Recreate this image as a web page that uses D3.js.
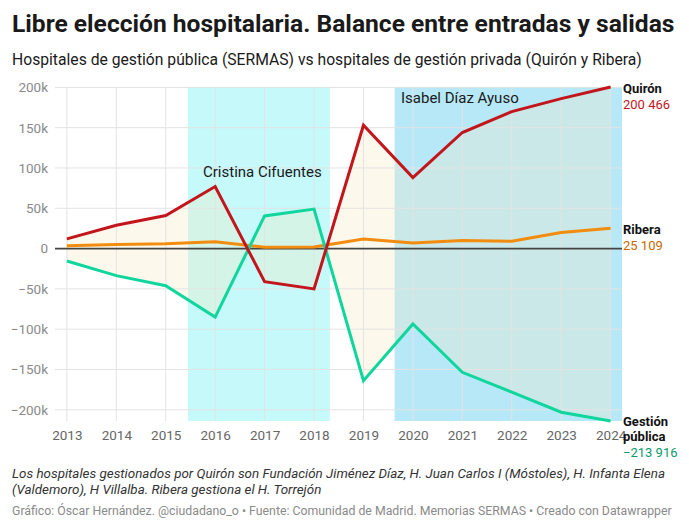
<!DOCTYPE html>
<html>
<head>
<meta charset="utf-8">
<script src="https://cdn.jsdelivr.net/npm/d3@7"></script>
<style>
  body { margin: 0; background: #fff; font-family: Roboto, "Noto Sans", sans-serif; }
  svg text { font-family: Roboto, "Noto Sans", sans-serif; }
</style>
</head>
<body>
<div id="chart"></div>
<script>
// data
var years = [2013, 2014, 2015, 2016, 2017, 2018, 2019, 2020, 2021, 2022, 2023, 2024];
var quiron = [12000, 29000, 41000, 77000, -41000, -50000, 153000, 88000, 144000, 170000, 186000, 200466];
var ribera = [3600, 5000, 6000, 8600, 1600, 2000, 12000, 7000, 10000, 9000, 20000, 25109];
var publica = [-15400, -33600, -46000, -85000, 40500, 49000, -164000, -93500, -153500, -178000, -203000, -213916];
var yTicks = [200000, 150000, 100000, 50000, 0, -50000, -100000, -150000, -200000];
var periods = [
  {name: "Cristina Cifuentes", from: 2015.45, to: 2018.32, color: "#c6f9fa"},
  {name: "Isabel Díaz Ayuso", from: 2019.63, to: 2024.23, color: "#b6e8f8"}
];

var W = 689, H = 528;
var margin = {top: 87, right: 67, bottom: 107, left: 55};

var svg = d3.select("#chart").append("svg")
  .attr("width", W).attr("height", H);

svg.append("text").attr("x", 12).attr("y", 32)
  .attr("font-size", 24.6).attr("font-weight", 700).attr("fill", "#1a1a1a")
  .text("Libre elección hospitalaria. Balance entre entradas y salidas");
svg.append("text").attr("x", 12).attr("y", 65)
  .attr("font-size", 15.7).attr("fill", "#1a1a1a")
  .text("Hospitales de gestión pública (SERMAS) vs hospitales de gestión privada (Quirón y Ribera)");

var x = d3.scaleLinear().domain([2012.76, 2024.23]).range([margin.left, W - margin.right]);
var y = d3.scaleLinear().domain([-213916, 200466]).range([H - margin.bottom, margin.top]);

var g = svg.append("g");

// government periods
g.selectAll("rect.period").data(periods).enter().append("rect")
  .attr("class", "period")
  .attr("x", function(d) { return x(d.from); })
  .attr("width", function(d) { return x(d.to) - x(d.from); })
  .attr("y", y.range()[1])
  .attr("height", y.range()[0] - y.range()[1])
  .attr("fill", function(d) { return d.color; });

// area between Quirón and gestión pública
var band = years.map(function(yr, i) { return {year: yr, a: quiron[i], b: publica[i]}; });
g.append("path").datum(band)
  .attr("fill", "#f7e9c0").attr("fill-opacity", 0.3)
  .attr("d", d3.area()
    .x(function(d) { return x(d.year); })
    .y0(function(d) { return y(d.b); })
    .y1(function(d) { return y(d.a); }));

// grid
g.selectAll("line.hgrid").data(yTicks).enter().append("line")
  .attr("x1", margin.left).attr("x2", W - margin.right)
  .attr("y1", function(d) { return y(d); }).attr("y2", function(d) { return y(d); })
  .attr("stroke", "#e3e3e3").attr("stroke-width", 1);
g.selectAll("line.vgrid").data(years).enter().append("line")
  .attr("x1", function(d) { return x(d); }).attr("x2", function(d) { return x(d); })
  .attr("y1", y.range()[1]).attr("y2", y.range()[0])
  .attr("stroke", "#e3e3e3").attr("stroke-width", 1);

// y axis labels
var yAxis = d3.axisLeft(y).tickValues(yTicks).tickSize(0).tickPadding(7)
  .tickFormat(function(d) { return d === 0 ? "0" : (d < 0 ? "\u2212" : "") + Math.abs(d / 1000) + "k"; });
g.append("g").attr("transform", "translate(" + margin.left + ",0)").call(yAxis)
  .call(function(s) { s.select(".domain").remove(); })
  .selectAll("text").attr("font-size", 13.5).attr("fill", "#8a8a8a");

// x axis labels
var xAxis = d3.axisBottom(x).tickValues(years).tickSize(0).tickPadding(9).tickFormat(d3.format("d"));
g.append("g").attr("transform", "translate(0," + (H - margin.bottom) + ")").call(xAxis)
  .call(function(s) { s.select(".domain").remove(); })
  .selectAll("text").attr("font-size", 13.5).attr("fill", "#666");

// zero line
g.append("line").attr("x1", margin.left).attr("x2", W - margin.right)
  .attr("y1", y(0)).attr("y2", y(0)).attr("stroke", "#444").attr("stroke-width", 1.6);

// lines
var series = [
  {name: "Ribera", values: ribera, color: "#f28c0f"},
  {name: "Gestión pública", values: publica, color: "#0fd69c"},
  {name: "Quirón", values: quiron, color: "#c3161c"}
];
var line = d3.line().x(function(d, i) { return x(years[i]); }).y(function(d) { return y(d); });
g.selectAll("path.series").data(series).enter().append("path")
  .attr("class", "series")
  .attr("fill", "none")
  .attr("stroke", function(d) { return d.color; })
  .attr("stroke-width", 3)
  .attr("stroke-linejoin", "miter")
  .attr("d", function(d) { return line(d.values); });

// period annotations
g.append("text").attr("x", 203).attr("y", 177).attr("font-size", 15).attr("fill", "#1a1a1a")
  .text(periods[0].name);
g.append("text").attr("x", 401).attr("y", 103).attr("font-size", 15).attr("fill", "#1a1a1a")
  .text(periods[1].name);

// end labels
var fmt = function(v) { return (v < 0 ? "\u2212" : "") + d3.format(",")(Math.abs(v)).replace(/,/g, " "); };
var lx = W - margin.right + 1;
function endLabel(lines, value, color, top) {
  var t = g.append("text").attr("x", lx).attr("font-size", 13);
  lines.forEach(function(l, i) {
    t.append("tspan").attr("x", lx).attr("y", top + i * 15).attr("font-weight", 700).attr("fill", "#111").text(l);
  });
  t.append("tspan").attr("x", lx).attr("y", top + lines.length * 15 + 1).attr("fill", color).text(fmt(value));
}
endLabel(["Quirón"], quiron[quiron.length - 1], "#c3161c", 93);
endLabel(["Ribera"], ribera[ribera.length - 1], "#c26a00", 234);
endLabel(["Gestión", "pública"], publica[publica.length - 1], "#0b9a6c", 426);

// notes
var note = svg.append("text").attr("font-size", 13.4).attr("font-style", "italic").attr("fill", "#333");
note.append("tspan").attr("x", 12).attr("y", 478)
  .text("Los hospitales gestionados por Quirón son Fundación Jiménez Díaz, H. Juan Carlos I (Móstoles), H. Infanta Elena");
note.append("tspan").attr("x", 12).attr("y", 494)
  .text("(Valdemoro), H Villalba. Ribera gestiona el H. Torrejón");
svg.append("text").attr("x", 12).attr("y", 515).attr("font-size", 12.3).attr("fill", "#8a8a8a")
  .text("Gráfico: Óscar Hernández. @ciudadano_o \u2022 Fuente: Comunidad de Madrid. Memorias SERMAS \u2022 Creado con Datawrapper");
</script>
</body>
</html>
